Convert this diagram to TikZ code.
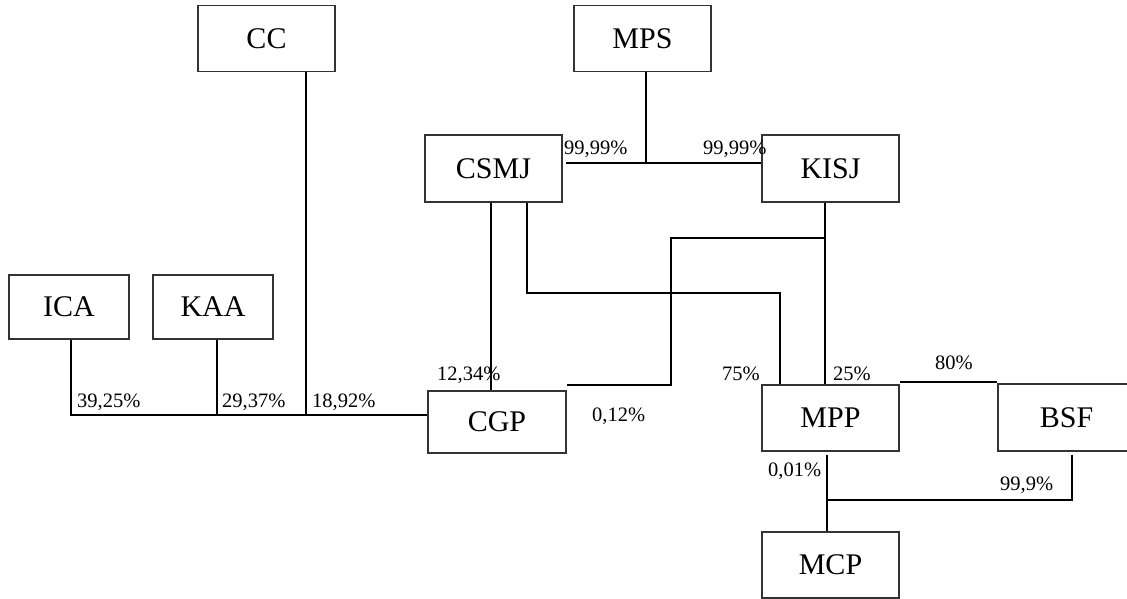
\documentclass[tikz,border=0pt]{standalone}
\usepackage{fontspec}
\setmainfont{Liberation Serif}
\begin{document}
\begin{tikzpicture}[x=1pt,y=-1pt,
  box/.style={draw=black!80,line width=1.1pt,fill=white,minimum width=137pt,minimum height=66pt,inner sep=0pt,font=\fontsize{30}{30}\selectfont},
  sbox/.style={box,minimum width=120pt,minimum height=64pt},
  conn/.style={draw=black,line width=2pt},
  pct/.style={anchor=base west,inner sep=0pt,font=\fontsize{20.5}{20.5}\selectfont}]
\useasboundingbox (0,0) rectangle (1127,598);
\clip (0,0) rectangle (1127,598);
\fill[white] (0,0) rectangle (1127,598);
% nodes
\node[box] (CC) at (266.5,38.5) {CC};
\node[box] (MPS) at (642.5,38.5) {MPS};
\node[box,minimum height=67pt] (CSMJ) at (493.5,168.5) {CSMJ};
\node[box,minimum height=67pt] (KISJ) at (830.5,168.5) {KISJ};
\node[sbox] (ICA) at (69,307) {ICA};
\node[sbox] (KAA) at (213,307) {KAA};
\node[box,minimum width=138pt,minimum height=62pt] (CGP) at (497,422) {CGP};
\node[box] (MPP) at (830.5,418) {MPP};
\node[box,minimum height=67pt] (BSF) at (1066.5,417.5) {BSF};
\node[box] (MCP) at (830.5,565) {MCP};
% connectors
\draw[conn] ([xshift=2pt]ICA.south) |- ([yshift=7pt]CGP.west);
\draw[conn] ([xshift=4pt]KAA.south) -- ++(0,76);
\draw[conn] ([xshift=39.5pt]CC.south) -- ++(0,344);
\draw[conn] ([xshift=3.5pt]MPS.south) -- ++(0,92);
\draw[conn] ([xshift=3pt,yshift=5.5pt]CSMJ.east) -- ([yshift=5.5pt]KISJ.west);
\draw[conn] ([xshift=-2.5pt]CSMJ.south) -- ([xshift=-2.5pt]CSMJ.south |- CGP.north);
\draw[conn] ([xshift=33.5pt]CSMJ.south) -- ++(0,90) -| ([xshift=-50.5pt]MPP.north);
\draw[conn] ([xshift=-5.5pt]KISJ.south) -- ([xshift=-5.5pt]MPP.north);
\draw[conn] ([xshift=-5.5pt]KISJ.south) ++(0,35) -| ++(-154,147) coordinate (kk) -- (kk -| CGP.east);
\draw[conn] ([yshift=2pt]MPP.north east) -- ([yshift=2pt]MPP.north east -| BSF.west);
\draw[conn] ([xshift=-3.5pt,yshift=-3pt]MPP.south) -- ([xshift=-3.5pt]MCP.north);
\draw[conn] ([xshift=5.5pt,yshift=-3pt]BSF.south) -- ++(0,45) -- ++(-245,0);
% labels
\node[pct] (l1) at (77,407) {39,25\%};
\node[pct] (l2) at (222,407) {29,37\%};
\node[pct] (l3) at (312,407) {18,92\%};
\node[pct] (l4) at (437,380) {12,34\%};
\node[pct] (l5) at (564,154) {99,99\%};
\node[pct] (l6) at (703,154) {99,99\%};
\node[pct] (l7) at (722,380) {75\%};
\node[pct] (l8) at (833,380) {25\%};
\node[pct] (l9) at (935,369) {80\%};
\node[pct] (l10) at (592,421.7) {0,12\%};
\node[pct] (l11) at (768,476.7) {0,01\%};
\node[pct] (l12) at (1000,490) {99,9\%};
\end{tikzpicture}
\end{document}
